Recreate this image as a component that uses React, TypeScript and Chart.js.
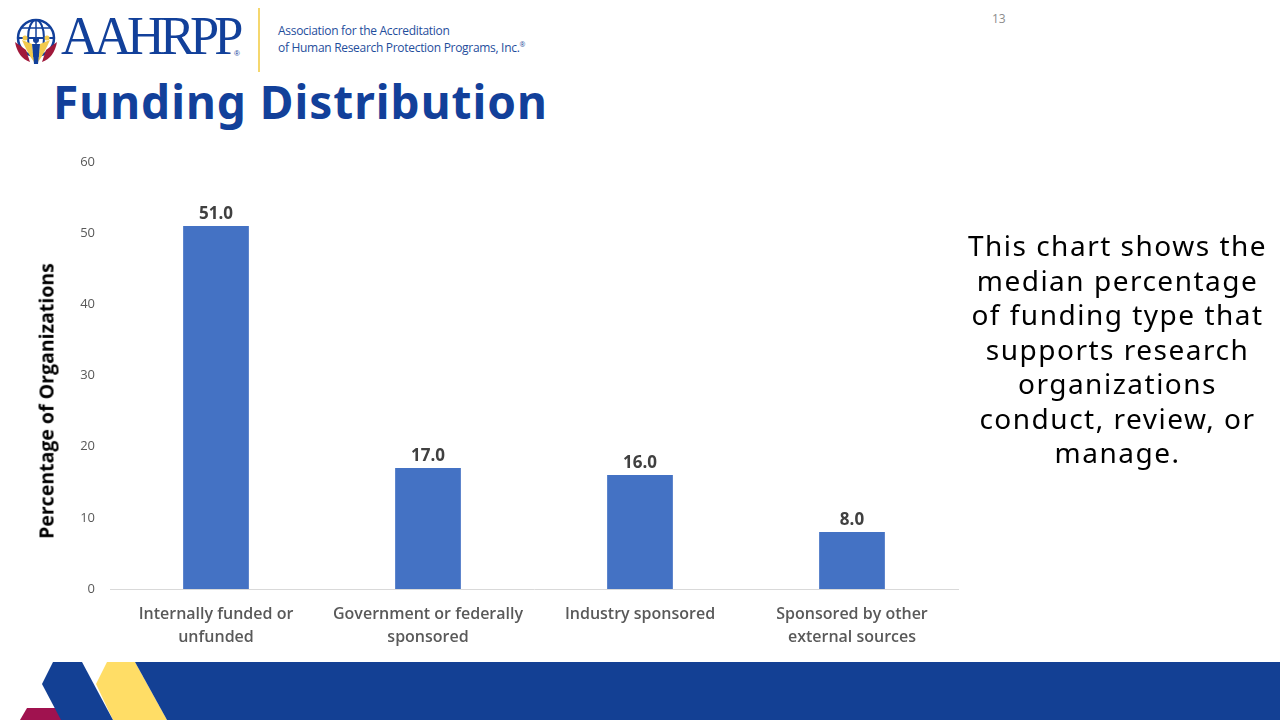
import React, { useEffect, useRef } from "react";
import { Chart, registerables } from "chart.js";

Chart.register(...registerables);

const categories: string[][] = [
  ["Internally funded or", "unfunded"],
  ["Government or federally", "sponsored"],
  ["Industry sponsored"],
  ["Sponsored by other", "external sources"],
];
const medianValues: number[] = [51, 17, 16, 8];
const yMin = 0;
const yMax = 60;
const yStep = 10;

const BLUE = "#12409A";

const valueLabels = {
  id: "valueLabels",
  afterDatasetsDraw(chart: any) {
    const ctx = chart.ctx;
    const meta = chart.getDatasetMeta(0);
    ctx.save();
    ctx.font = '700 17px "Open Sans"';
    ctx.fillStyle = "#404040";
    ctx.textAlign = "center";
    ctx.textBaseline = "alphabetic";
    meta.data.forEach((el: any, i: number) => {
      const v = chart.data.datasets[0].data[i] as number;
      ctx.fillText(v.toFixed(1), el.x, el.y - 7);
    });
    ctx.restore();
  },
};

function BarChart() {
  const ref = useRef<HTMLCanvasElement | null>(null);
  useEffect(() => {
    if (!ref.current) return;
    const chart = new Chart(ref.current, {
      type: "bar",
      data: {
        labels: categories,
        datasets: [
          {
            data: medianValues,
            backgroundColor: "#4472C4",
            borderWidth: 0,
            barPercentage: 0.31,
            categoryPercentage: 1,
          },
        ],
      },
      options: {
        animation: false,
        responsive: true,
        maintainAspectRatio: false,
        layout: { padding: { top: 0, right: 12, left: 0, bottom: 0 } },
        plugins: { legend: { display: false }, tooltip: { enabled: false }, title: { display: false } },
        scales: {
          x: {
            grid: { display: false },
            border: { display: true, color: "#D9D9D9", width: 1 },
            ticks: {
              color: "#595959",
              font: { family: "Open Sans", size: 16, weight: 600 as any, lineHeight: 1.45 },
              padding: 6,
              maxRotation: 0,
              autoSkip: false,
            },
            afterFit: (s: any) => {
              s.height = 61;
            },
          },
          y: {
            min: yMin,
            max: yMax,
            grid: { display: false },
            border: { display: false },
            ticks: {
              stepSize: yStep,
              color: "#595959",
              font: { family: "Open Sans", size: 13 },
              padding: 7,
            },
            afterFit: (s: any) => {
              s.width = 80;
            },
          },
        },
      },
      plugins: [valueLabels],
    });
    return () => chart.destroy();
  }, []);
  return <canvas ref={ref} />;
}

function Logo() {
  return (
    <div style={{ position: "absolute", left: 0, top: 0, width: 560, height: 80 }}>
      <svg width={60} height={70} style={{ position: "absolute", left: 10, top: 10 }}>
        <circle cx={26} cy={28} r={18} fill="none" stroke={BLUE} strokeWidth={2.5} />
        <ellipse cx={26} cy={28} rx={8} ry={18} fill="none" stroke={BLUE} strokeWidth={2} />
        <line x1={8} y1={28} x2={44} y2={28} stroke={BLUE} strokeWidth={2} />
        <line x1={12} y1={18} x2={40} y2={18} stroke={BLUE} strokeWidth={1.5} />
        <line x1={26} y1={10} x2={26} y2={46} stroke={BLUE} strokeWidth={1.5} />
        <path d="M5 32 Q8 48 20 52 L16 40 Z" fill="#A0183A" />
        <path d="M47 32 Q44 48 32 52 L36 40 Z" fill="#A0183A" />
        <path d="M12 30 Q18 44 24 52 L22 34 Z" fill="#F2C94C" />
        <path d="M40 30 Q34 44 28 52 L30 34 Z" fill="#F2C94C" />
        <path d="M22 34 L30 34 L28 54 L24 54 Z" fill={BLUE} />
        <circle cx={26} cy={30} r={3} fill={BLUE} />
        <circle cx={15} cy={28} r={2.5} fill="#F2C94C" />
        <circle cx={37} cy={28} r={2.5} fill="#F2C94C" />
      </svg>
      <div
        style={{
          position: "absolute",
          left: 61,
          top: 6,
          fontFamily: "Liberation Serif",
          fontSize: 54,
          lineHeight: "60px",
          color: BLUE,
          letterSpacing: -5,
          transform: "scaleX(0.97)",
          transformOrigin: "left top",
          whiteSpace: "nowrap",
        }}
      >
        AAHRPP
      </div>
      <div style={{ position: "absolute", left: 234, top: 49, fontSize: 8, color: BLUE, fontFamily: "Liberation Sans" }}>®</div>
      <div style={{ position: "absolute", left: 258, top: 8, width: 2, height: 64, background: "#F5D76E" }} />
      <div
        style={{
          position: "absolute",
          left: 278,
          top: 24,
          fontFamily: "Open Sans",
          fontSize: 12,
          lineHeight: "13.5px",
          color: "#1F4E9C",
          letterSpacing: -0.3,
          whiteSpace: "nowrap",
        }}
      >
        Association for the Accreditation
        <br />
        of Human Research Protection Programs, Inc.<sup style={{ fontSize: 7 }}>®</sup>
      </div>
    </div>
  );
}

export default function App() {
  return (
    <div
      style={{
        position: "fixed",
        left: 0,
        top: 0,
        width: 1280,
        height: 720,
        background: "#FFFFFF",
        overflow: "hidden",
        fontFamily: "Open Sans",
      }}
    >
      <Logo />
      <div style={{ position: "absolute", left: 992, top: 10, fontSize: 12, color: "#8C8C8C", fontFamily: "Open Sans" }}>13</div>
      <div
        style={{
          position: "absolute",
          left: 53,
          top: 71,
          fontFamily: "Noto Sans",
          fontWeight: 700,
          fontSize: 46,
          lineHeight: "60px",
          letterSpacing: 1,
          color: BLUE,
          whiteSpace: "nowrap",
        }}
      >
        Funding Distribution
      </div>
      <div style={{ position: "absolute", left: 30, top: 147, width: 940, height: 503 }}>
        <BarChart />
      </div>
      <div
        style={{
          position: "absolute",
          left: 46,
          top: 401,
          transform: "translate(-50%, -50%) rotate(-90deg)",
          fontFamily: "Open Sans",
          fontWeight: 700,
          fontSize: 19.5,
          color: "#000000",
          whiteSpace: "nowrap",
        }}
      >
        Percentage of Organizations
      </div>
      <div
        style={{
          position: "absolute",
          left: 955,
          top: 228,
          width: 325,
          textAlign: "center",
          fontFamily: "Noto Sans",
          fontSize: 28,
          lineHeight: "34.5px",
          color: "#000000",
          letterSpacing: 1.5,
        }}
      >
        This chart shows the
        <br />
        median percentage
        <br />
        of funding type that
        <br />
        supports research
        <br />
        organizations
        <br />
        conduct, review, or
        <br />
        manage.
      </div>
      <svg width={1280} height={60} style={{ position: "absolute", left: 0, top: 660 }}>
        <polygon points="20,60 27,48 60,48 67,60" fill="#A0124F" />
        <polygon points="107,2 135,2 167,60 113,60 96,24" fill="#FFDD66" />
        <polygon points="135,2 1280,2 1280,60 167,60" fill="#134094" />
        <polygon points="53,2 82,2 113,60 61,60 42,24" fill="#134094" />
      </svg>
    </div>
  );
}
